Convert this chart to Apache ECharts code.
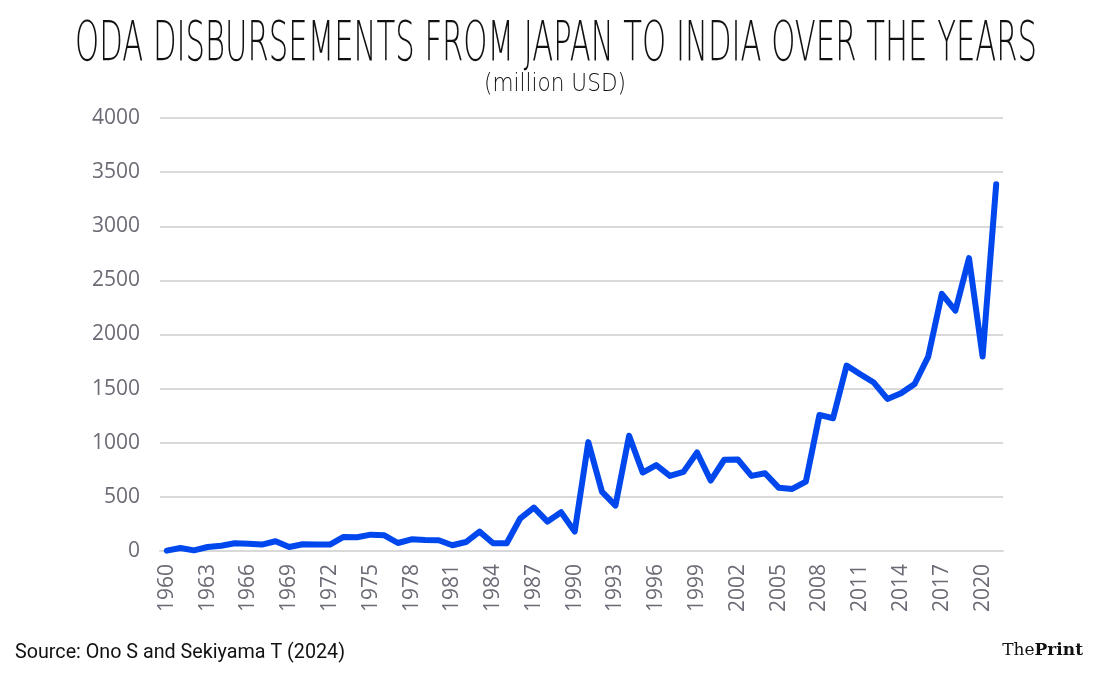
<!DOCTYPE html>
<html>
<head>
<meta charset="utf-8">
<title>ODA disbursements from Japan to India</title>
<script src="https://cdn.jsdelivr.net/npm/echarts@6/dist/echarts.min.js"></script>
<style>
  html, body { margin: 0; padding: 0; background: #fff; }
  #main { width: 1110px; height: 675px; }
</style>
</head>
<body>
<div id="main"></div>
<script>
// 数据：年份和数值（百万美元）
var years = [];
for (var y = 1960; y <= 2021; y++) years.push(String(y));

var odaValues = [
  3, 28, 6, 37, 49, 71, 68, 59, 90, 37,
  62, 59, 59, 130, 127, 151, 145, 74, 108, 102,
  99, 53, 83, 179, 72, 72, 302, 401, 272, 358,
  179, 1006, 549, 420, 1065, 725, 793, 694, 731, 910,
  651, 843, 845, 694, 718, 585, 573, 641, 1257, 1226,
  1713, 1633, 1556, 1405, 1457, 1543, 1796, 2375, 2221, 2705,
  1796, 3389
];

var yTicks = { min: 0, max: 4000, interval: 500 };

var titleText = 'ODA DISBURSEMENTS FROM JAPAN TO INDIA OVER THE YEARS';
var subText = '(million USD)';
var sourceText = 'Source: Ono S and Sekiyama T (2024)';

var labelColor = '#6b6b76';
var gridColor = '#d9d9d9';
var lineColor = '#0047ee';

// 测量文字宽度，用来横向压缩成窄体字
var measureCtx = document.createElement('canvas').getContext('2d');
function textWidth(txt, font) {
  measureCtx.font = font;
  return measureCtx.measureText(txt).width;
}
var titleFont = '200 56px "DejaVu Sans"';
var titleScale = 962 / textWidth(titleText, titleFont);
var subFont = '200 25px "DejaVu Sans"';
var subScale = 142 / textWidth(subText, subFont);
var srcFont = '20px Roboto';
var srcScale = 330 / textWidth(sourceText, srcFont);

var myChart = echarts.init(document.getElementById('main'));

var option = {
  backgroundColor: '#fff',
  animation: false,
  grid: {
    left: 160,
    right: 107,
    top: 118,
    bottom: 124
  },
  xAxis: {
    type: 'category',
    data: years,
    boundaryGap: true,
    axisLine: { show: true, lineStyle: { color: gridColor, width: 2 } },
    axisTick: { show: false },
    axisLabel: {
      interval: 2,
      rotate: 90,
      color: labelColor,
      fontSize: 21,
      fontFamily: 'Open Sans',
      margin: 13
    }
  },
  yAxis: {
    type: 'value',
    min: yTicks.min,
    max: yTicks.max,
    interval: yTicks.interval,
    axisLine: { show: false },
    axisTick: { show: false },
    splitLine: { lineStyle: { color: gridColor, width: 2 } },
    axisLabel: {
      color: labelColor,
      fontSize: 21,
      fontFamily: 'Open Sans',
      margin: 20,
      formatter: function (v) { return String(v); }
    }
  },
  series: [{
    type: 'line',
    data: odaValues,
    symbol: 'none',
    lineStyle: { color: lineColor, width: 6, cap: 'round', join: 'round' }
  }],
  graphic: [
    {
      type: 'text',
      x: 556,
      y: 17,
      scaleX: titleScale,
      style: {
        text: titleText,
        x: 0,
        y: 0,
        align: 'center',
        verticalAlign: 'top',
        font: titleFont,
        fill: '#111'
      }
    },
    {
      type: 'text',
      x: 555,
      y: 72,
      scaleX: subScale,
      style: {
        text: subText,
        x: 0,
        y: 0,
        align: 'center',
        verticalAlign: 'top',
        font: subFont,
        fill: '#111'
      }
    },
    {
      type: 'text',
      x: 15,
      y: 643,
      scaleX: srcScale,
      style: {
        text: sourceText,
        x: 0,
        y: 0,
        align: 'left',
        verticalAlign: 'top',
        font: srcFont,
        fill: '#111'
      }
    },
    {
      type: 'text',
      right: 27,
      top: 642,
      style: {
        text: '{a|The}{b|Print}',
        rich: {
          a: { fontFamily: 'DejaVu Serif', fontSize: 17, fill: '#111', color: '#111' },
          b: { fontFamily: 'DejaVu Serif', fontSize: 17, fontWeight: 'bold', fill: '#111', color: '#111' }
        }
      }
    }
  ]
};

myChart.setOption(option);
</script>
</body>
</html>
